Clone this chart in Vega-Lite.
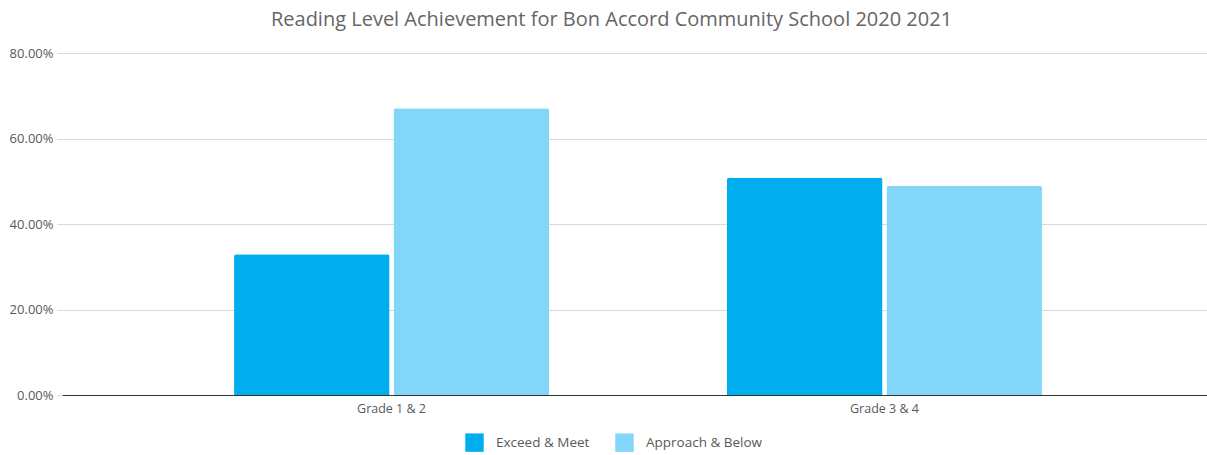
{
  "$schema": "https://vega.github.io/schema/vega-lite/v6.json",
  "width": 1143,
  "height": 342,
  "autosize": {"type": "none"},
  "padding": {"left": 62, "top": 53, "right": 2, "bottom": 60},
  "background": "white",
  "title": {
    "text": "Reading Level Achievement for Bon Accord Community School 2020 2021",
    "font": "Open Sans",
    "fontSize": 20,
    "fontWeight": "normal",
    "color": "#666666",
    "anchor": "middle",
    "dx": -22,
    "offset": 17
  },
  "data": {
    "values": [
      {"grade": "Grade 1 & 2", "series": "Exceed & Meet", "value": 0.329},
      {"grade": "Grade 1 & 2", "series": "Approach & Below", "value": 0.671},
      {"grade": "Grade 3 & 4", "series": "Exceed & Meet", "value": 0.508},
      {"grade": "Grade 3 & 4", "series": "Approach & Below", "value": 0.489}
    ]
  },
  "mark": {"type": "bar", "cornerRadiusTopLeft": 2, "cornerRadiusTopRight": 2},
  "encoding": {
    "x": {
      "field": "grade",
      "type": "nominal",
      "title": null,
      "scale": {"paddingInner": 0.361, "paddingOuter": 0.349, "range": [0, 1152]},
      "axis": {
        "labelAngle": 0,
        "labelFont": "Open Sans",
        "labelFontSize": 12.5,
        "labelColor": "#595959",
        "labelPadding": 7,
        "ticks": false,
        "domainColor": "#333333",
        "domainWidth": 1.2,
        "grid": false
      }
    },
    "xOffset": {
      "field": "series",
      "type": "nominal",
      "sort": ["Exceed & Meet", "Approach & Below"],
      "scale": {"paddingInner": 0.025}
    },
    "y": {
      "field": "value",
      "type": "quantitative",
      "title": null,
      "scale": {"domain": [0, 0.8]},
      "axis": {
        "values": [0, 0.2, 0.4, 0.6, 0.8],
        "format": ".2%",
        "labelFont": "Open Sans",
        "labelFontSize": 13,
        "labelColor": "#595959",
        "labelPadding": 4,
        "domain": false,
        "tickSize": 5,
        "tickColor": "#d9d9d9",
        "gridColor": "#d9d9d9",
        "gridWidth": 1
      }
    },
    "color": {
      "field": "series",
      "type": "nominal",
      "sort": ["Exceed & Meet", "Approach & Below"],
      "scale": {"domain": ["Exceed & Meet", "Approach & Below"], "range": ["#00AEEF", "#82D7F8"]},
      "legend": {
        "title": null,
        "orient": "none",
        "direction": "horizontal",
        "legendX": 403,
        "legendY": 380,
        "symbolType": "square",
        "symbolSize": 340,
        "symbolStrokeWidth": 0,
        "symbolOpacity": 1,
        "labelFont": "Open Sans",
        "labelFontSize": 13.5,
        "labelColor": "#595959",
        "labelOffset": 12,
        "columnPadding": 25
      }
    }
  },
  "config": {"view": {"stroke": null}}
}
